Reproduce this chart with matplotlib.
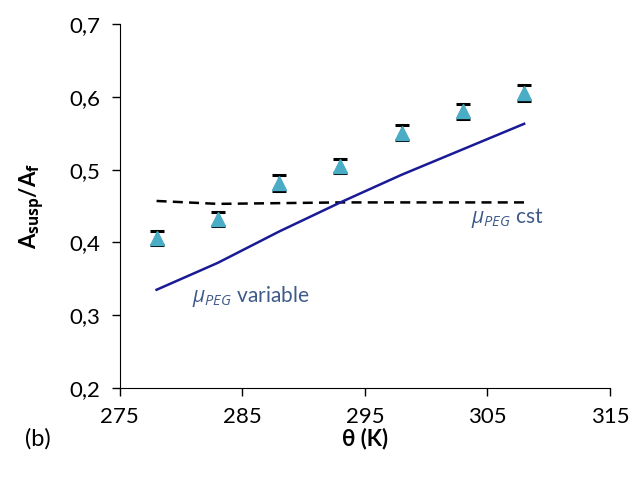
import numpy as np
import matplotlib
matplotlib.use("Agg")
import matplotlib.pyplot as plt
from matplotlib.ticker import FuncFormatter

plt.rcParams['font.family'] = ['Lato', 'DejaVu Sans']
plt.rcParams['mathtext.fontset'] = 'custom'
plt.rcParams['mathtext.rm'] = 'Open Sans'
plt.rcParams['mathtext.it'] = 'Open Sans:italic'
plt.rcParams['mathtext.bf'] = 'Open Sans:bold'

# Datos
theta = [278, 283, 288, 293, 298, 303, 308]
ratio_exp = [0.406, 0.432, 0.481, 0.505, 0.551, 0.580, 0.605]
ratio_err = [0.010, 0.010, 0.011, 0.010, 0.010, 0.010, 0.011]
mu_variable = [0.335, 0.372, 0.415, 0.455, 0.493, 0.528, 0.563]
mu_cst = [0.457, 0.453, 0.454, 0.455, 0.455, 0.455, 0.455]
xticks = [275, 285, 295, 305, 315]
yticks = [0.2, 0.3, 0.4, 0.5, 0.6, 0.7]

fig = plt.figure(figsize=(6.34, 4.82), dpi=100)
ax = fig.add_axes([0.189, 0.195, 0.773, 0.755])

ax.plot(theta, mu_cst, color='black', linestyle=(0, (4, 2.5)), linewidth=1.8)
ax.plot(theta, mu_variable, color='#1A1A96', linewidth=1.8)
ax.errorbar(theta, ratio_exp, yerr=ratio_err, fmt='none', ecolor='black',
            elinewidth=1.2, capsize=5, capthick=2.2)
ax.plot(theta, ratio_exp, linestyle='none', marker='^', markersize=10,
        color='#4BACC6', markeredgecolor='#4BACC6')

ax.text(306.6, 0.433, r'$\mathit{\mu_{PEG}}$ cst', color='#3F5A8A', fontsize=15,
        ha='center', va='center')
ax.text(285.7, 0.326, r'$\mathit{\mu_{PEG}}$ variable', color='#3F5A8A', fontsize=15,
        ha='center', va='center')

ax.set_xlim(275, 315)
ax.set_ylim(0.2, 0.7)
ax.set_xticks(xticks)
ax.set_yticks(yticks)
ax.yaxis.set_major_formatter(FuncFormatter(lambda v, p: f"{v:.1f}".replace('.', ',')))
ax.spines['top'].set_visible(False)
ax.spines['right'].set_visible(False)
ax.tick_params(labelsize=16, length=6, width=1, color='black', pad=8)

ax.set_xlabel(r'θ (K)', fontsize=16, fontweight='bold', labelpad=0)
ax.set_ylabel(r'A$_{\mathbf{susp}}$/A$_{\mathbf{f}}$', fontsize=16, fontweight='bold', labelpad=16)
fig.text(0.04, 0.075, '(b)', fontsize=17)

fig.savefig('out.png', dpi=100)
